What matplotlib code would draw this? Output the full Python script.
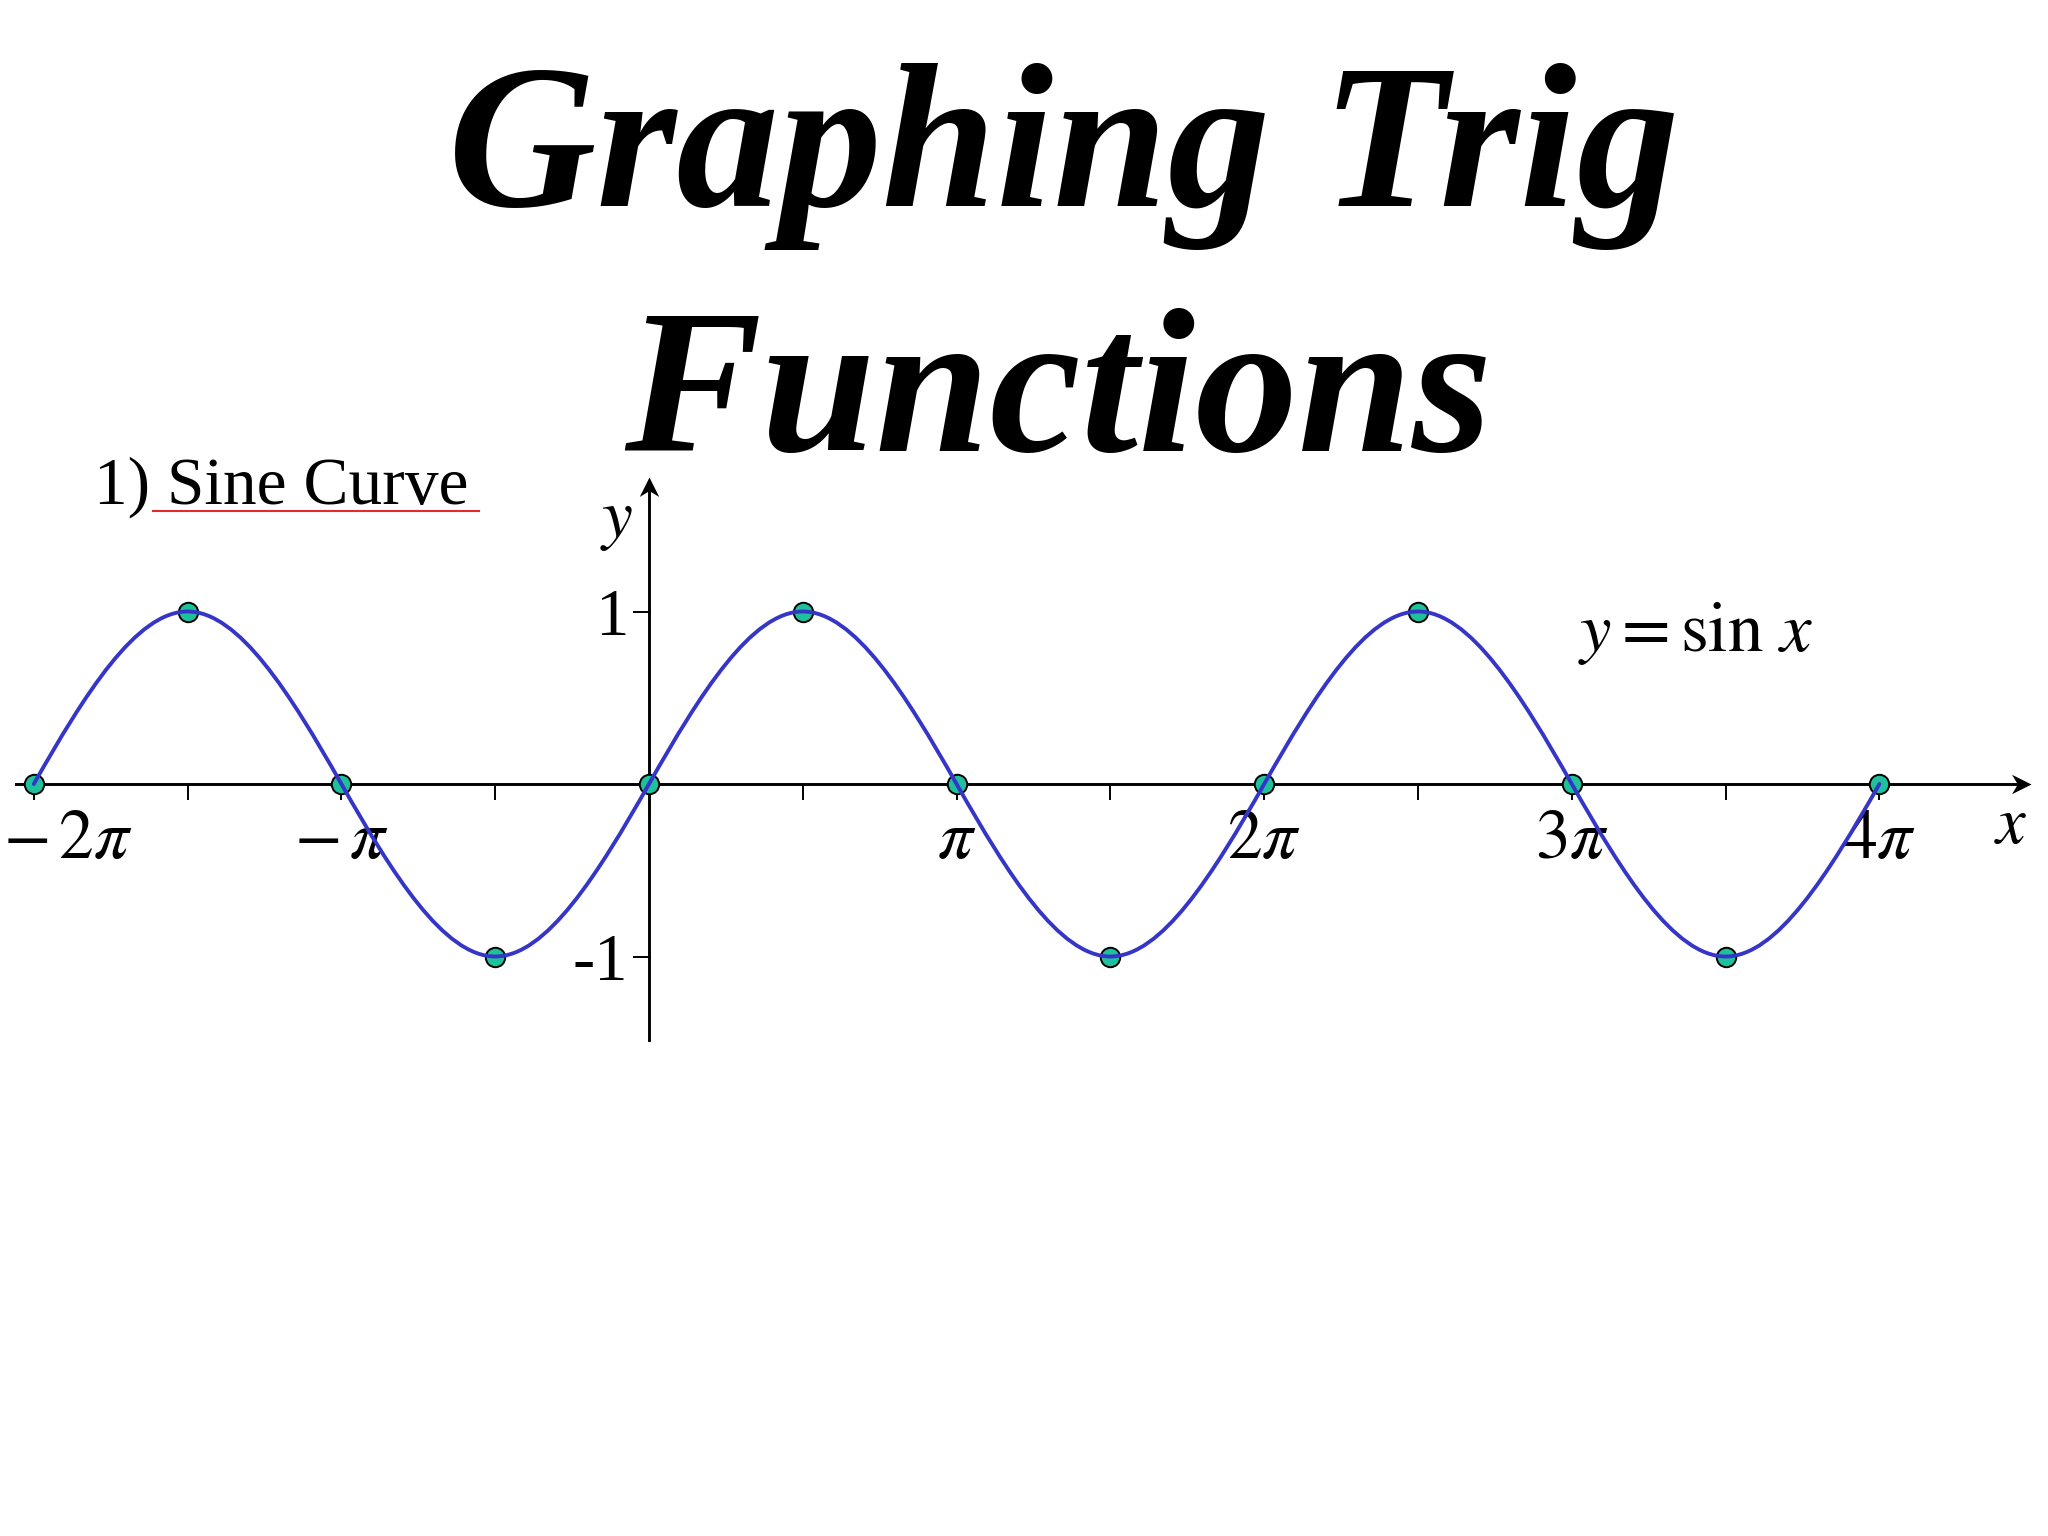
import numpy as np
import matplotlib
matplotlib.use("Agg")
import matplotlib.pyplot as plt
from matplotlib.path import Path
from matplotlib.patches import PathPatch
from matplotlib.lines import Line2D

# key points of y = sin x, x in multiples of pi
x_mult = [-2, -1.5, -1, -0.5, 0, 0.5, 1, 1.5, 2, 2.5, 3, 3.5, 4]
y_vals = [0, 1, 0, -1, 0, 1, 0, -1, 0, 1, 0, -1, 0]
# tangent slope of the curve at each key point
slopes = [1, 0, -1, 0, 1, 0, -1, 0, 1, 0, -1, 0, 1]

major_mult = [-2, -1, 1, 2, 3, 4]
major_labels = [r'$-\,2\pi$', r'$-\,\pi$', r'$\pi$', r'$2\pi$', r'$3\pi$', r'$4\pi$']
minor_mult = [-1.5, -0.5, 0.5, 1.5, 2.5, 3.5]
y_ticks = [1, -1]
y_ticklabels = ['1', '-1']

title_lines = ['Graphing Trig', 'Functions']
subtitle = '1) Sine Curve'
equation = r'$y = \sin\,x$'

plt.rcParams['mathtext.fontset'] = 'stix'
plt.rcParams['font.family'] = ['Liberation Serif', 'DejaVu Serif']

W, H = 2048, 1536
fig = plt.figure(figsize=(20.48, 15.36), dpi=100)
ax = fig.add_axes([0, 0, 1, 1])

# pixel layout of the plot area
X0_PX, PI_PX = 649, 307.6
Y0_PX, UNIT_PX = 784, 172.5
ax.set_xlim(-X0_PX / PI_PX * np.pi, (W - X0_PX) / PI_PX * np.pi)
ax.set_ylim((Y0_PX - H) / UNIT_PX, Y0_PX / UNIT_PX)

x = np.array(x_mult) * np.pi
y = np.array(y_vals, dtype=float)
m = np.array(slopes, dtype=float)

# smooth curve through key points (cubic bezier with given tangents)
verts = [(x[0], y[0])]
codes = [Path.MOVETO]
for i in range(len(x) - 1):
    h = x[i + 1] - x[i]
    verts += [(x[i] + h / 3, y[i] + m[i] * h / 3),
              (x[i + 1] - h / 3, y[i + 1] - m[i + 1] * h / 3),
              (x[i + 1], y[i + 1])]
    codes += [Path.CURVE4] * 3
curve = PathPatch(Path(verts, codes), fill=False, edgecolor='#3535c8',
                  lw=2.8, zorder=4, capstyle='round')
ax.add_patch(curve)

ax.plot(x, y, 'o', ms=14, mfc='#1fc09c', mec='black', mew=1.4, zorder=3)

# axes through origin
x_left = -2.058 * np.pi
x_tip = 4.493 * np.pi
y_bot, y_tip = -1.484, 1.78
for s in ['top', 'right']:
    ax.spines[s].set_visible(False)
ax.spines['bottom'].set_position(('data', 0))
ax.spines['left'].set_position(('data', 0))
ax.spines['bottom'].set_bounds(x_left, x_tip - 0.1)
ax.spines['left'].set_bounds(y_bot, y_tip - 0.05)
ax.spines['bottom'].set_linewidth(2.1)
ax.spines['left'].set_linewidth(2.1)

head_x = Path([(0, 0), (-1, 0.5), (-0.7, 0), (-1, -0.5), (0, 0)])
head_y = Path([(0, 0), (-0.5, -1), (0, -0.7), (0.5, -1), (0, 0)])
ax.plot(x_tip, 0, marker=head_x, ms=28, color='black', mew=0, zorder=5)
ax.plot(0, y_tip, marker=head_y, ms=28, color='black', mew=0, zorder=5)

ax.set_xticks(np.array(major_mult) * np.pi)
ax.set_xticks(np.array(minor_mult) * np.pi, minor=True)
ax.tick_params(axis='x', which='both', direction='out', length=11.5,
               width=1.4, labelbottom=False)
ax.set_yticks(y_ticks, labels=y_ticklabels)
ax.tick_params(axis='y', direction='out', length=11.5, width=1.4,
               pad=3.5, labelsize=48)

for i, (mm, lab) in enumerate(zip(major_mult, major_labels)):
    if i == 0:
        ax.annotate(lab, xy=(mm * np.pi, 0), xytext=(-22, -53),
                    textcoords='offset points', ha='left', va='baseline',
                    fontsize=50)
    else:
        ax.annotate(lab, xy=(mm * np.pi, 0), xytext=(0, -53),
                    textcoords='offset points', ha='center', va='baseline',
                    fontsize=50)

ax.annotate(r'$y$', xy=(0, 1.432), xytext=(-11.5, 0), textcoords='offset points',
            ha='right', va='baseline', fontsize=50)
ax.text(4.428 * np.pi, -0.342, r'$x$', ha='center', va='baseline', fontsize=48)
ax.text(3.02 * np.pi, 0.771, equation, ha='left', va='baseline', fontsize=51)

# title and heading
fig.text(1064 / W, 1 - 206 / H, title_lines[0], ha='center', va='baseline',
         fontsize=148, fontweight='bold', fontstyle='italic')
fig.text(1058 / W, 1 - 451 / H, title_lines[1], ha='center', va='baseline',
         fontsize=148, fontweight='bold', fontstyle='italic')
fig.text(94 / W, 1 - 504 / H, subtitle, ha='left', va='baseline', fontsize=48.5)
fig.add_artist(Line2D([153 / W, 479 / W], [1 - 511 / H] * 2,
                      color='#e52a2a', lw=1.5, transform=fig.transFigure))

fig.savefig('out.png', dpi=100)
